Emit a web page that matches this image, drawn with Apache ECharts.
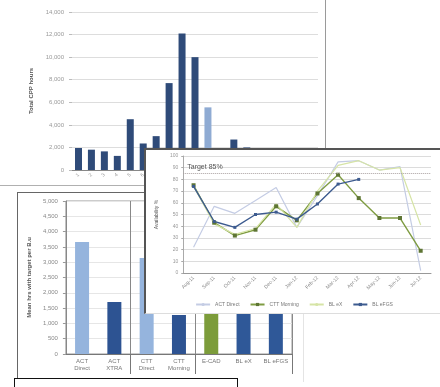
<!DOCTYPE html>
<html>
<head>
<meta charset="utf-8">
<script src="https://cdn.jsdelivr.net/npm/echarts@6/dist/echarts.min.js"></script>
<style>
  html, body { margin: 0; padding: 0; background: #fff; width: 440px; height: 387px; overflow: hidden; }
  .panel { position: absolute; background: #fff; }
  #hoursChart { left: 0; top: 0; width: 325px; height: 185px; border-right: 1px solid #9a9a9a; border-bottom: 1px solid #b0b0b0; z-index: 1; }
  #groupChart { left: 17px; top: 192px; width: 285px; height: 189px; border-left: 1px solid #666; border-top: 1px solid #666; border-right: 1px solid #e4e4e4; z-index: 2; }
  #availChart { left: 144px; top: 148px; width: 296px; height: 163px; border-left: 2px solid #555; border-top: 2px solid #555; border-bottom: 1px solid #ddd; z-index: 3; }
  #caption { left: 14px; top: 378px; width: 222px; height: 12px; border: 1px solid #111; z-index: 4; }
</style>
</head>
<body>
<div id="hoursChart" class="panel"></div>
<div id="groupChart" class="panel"></div>
<div id="availChart" class="panel"></div>
<div id="caption" class="panel"></div>
<script>
// top chart: total hours per week
const weekCats = ['1','2','3','4','5','6','7','8','9','10','11','12','13','14','15','16','17','18','19']
// values after index 13 sit under the line chart
const weekHours = [1950, 1800, 1650, 1250, 4500, 2350, 3000, 7700, 12100, 10000, 5550, null, 2700, 2000, null, null, null, null, null]
const weekTicks = [0, 2000, 4000, 6000, 8000, 10000, 12000, 14000]
const weekLightIndex = 10

// bottom-left chart: mean hours per group
const groupCats = ['ACT\nDirect', 'ACT\nXTRA', 'CTT\nDirect', 'CTT\nMorning', 'E-CAD', 'BL eX', 'BL eFGS']
const groupHours = [3660, 1700, 3140, 1275, 2000, 2500, 2400]
const groupTicks = [0, 500, 1000, 1500, 2000, 2500, 3000, 3500, 4000, 4500, 5000]

// right chart: availability by month
const months = ['Aug-11','Sep-11','Oct-11','Nov-11','Dec-11','Jan-12','Feb-12','Mar-12','Apr-12','May-12','Jun-12','Jul-12']
const actDirect = [22, 57, 51, 62, 73, 39, 66, 95, 96, 88, 91, 2]
const cttMorning = [75, 43, 32, 37, 57, 45, 68, 84, 64, 47, 47, 19]
const blEx = [74, 42, 33, 38, 59, 39, 70, 92, 96, 88, 90, 41]
const blEfgs = [74, 44, 39, 50, 52, 46, 59, 76, 80, null, null, null]
const availTicks = [0, 10, 20, 30, 40, 50, 60, 70, 80, 90, 100]
const target = 85

const font = 'Liberation Sans'
const fmt = v => v.toLocaleString('en-US')

let hours = echarts.init(document.getElementById('hoursChart'))
hours.setOption({
  animation: false,
  textStyle: { fontFamily: font },
  grid: { left: 72, top: 12, width: 246, height: 158 },
  xAxis: {
    type: 'category',
    data: weekCats,
    axisLine: { lineStyle: { color: '#888' } },
    axisTick: { show: false },
    axisLabel: { fontSize: 5, color: '#999', rotate: 45, margin: 4 }
  },
  yAxis: {
    type: 'value',
    min: weekTicks[0],
    max: weekTicks[weekTicks.length - 1],
    interval: 2000,
    name: 'Total CPP hours',
    nameLocation: 'middle',
    nameGap: 27,
    nameTextStyle: { fontSize: 6, color: '#555', fontWeight: 'bold' },
    axisLine: { show: false },
    axisTick: { show: true, length: 3, lineStyle: { color: '#bbb' } },
    axisLabel: { fontSize: 6, color: '#999', formatter: fmt },
    splitLine: { lineStyle: { color: '#ddd' } }
  },
  series: [{
    type: 'bar',
    data: weekHours,
    barWidth: 7,
    itemStyle: { color: p => p.dataIndex === weekLightIndex ? '#8fabd3' : '#2f4b79' }
  }]
})

const groupColors = ['#95b4dd', '#2d5392', '#95b4dd', '#2d5392', '#7c9c3a', '#2f5898', '#2f5898']
let groups = echarts.init(document.getElementById('groupChart'))
groups.setOption({
  animation: false,
  textStyle: { fontFamily: font },
  grid: { left: 40, top: 8, width: 234, height: 153, show: true, borderColor: '#999', borderWidth: 1 },
  xAxis: {
    type: 'category',
    data: groupCats,
    axisLine: { lineStyle: { color: '#777' } },
    axisTick: { show: true, length: 20, interval: i => i === 2 || i === 4, lineStyle: { color: '#777' } },
    splitLine: { show: true, interval: i => i === 2 || i === 4, lineStyle: { color: '#888' } },
    axisLabel: { fontSize: 6, color: '#777', lineHeight: 7, margin: 4, interval: 0 }
  },
  yAxis: {
    type: 'value',
    min: groupTicks[0],
    max: groupTicks[groupTicks.length - 1],
    interval: 500,
    name: 'Mean hrs with target per B.u',
    nameLocation: 'middle',
    nameGap: 27,
    nameTextStyle: { fontSize: 6, color: '#555', fontWeight: 'bold' },
    axisLine: { show: true, lineStyle: { color: '#888' } },
    axisTick: { show: true, length: 3, lineStyle: { color: '#999' } },
    axisLabel: { fontSize: 6, color: '#888', formatter: fmt },
    splitLine: { lineStyle: { color: '#e6e6e6' } }
  },
  series: [{
    type: 'bar',
    data: groupHours,
    barWidth: 14,
    itemStyle: { color: p => groupColors[p.dataIndex] }
  }]
})

let avail = echarts.init(document.getElementById('availChart'))
avail.setOption({
  animation: false,
  textStyle: { fontFamily: font },
  grid: { left: 28, top: 6, width: 257, height: 117 },
  legend: {
    bottom: 1,
    left: 'center',
    itemWidth: 14,
    itemHeight: 4,
    itemGap: 10,
    textStyle: { fontSize: 5, color: '#777' }
  },
  xAxis: {
    type: 'category',
    data: months,
    axisLine: { lineStyle: { color: '#999' } },
    axisTick: { show: false },
    axisLabel: { fontSize: 5, color: '#888', rotate: 45, margin: 4, interval: 0 }
  },
  yAxis: {
    type: 'value',
    min: availTicks[0],
    max: availTicks[availTicks.length - 1],
    interval: 10,
    name: 'Availability %',
    nameLocation: 'middle',
    nameGap: 19,
    nameTextStyle: { fontSize: 5, color: '#555' },
    axisLine: { show: true, lineStyle: { color: '#aaa' } },
    axisTick: { show: true, length: 2, lineStyle: { color: '#aaa' } },
    axisLabel: { fontSize: 5, color: '#999', margin: 5 },
    splitLine: { lineStyle: { color: '#dcdcdc' } }
  },
  series: [
    {
      name: 'ACT Direct', type: 'line', data: actDirect,
      lineStyle: { color: '#c4cce4', width: 1.2 }, itemStyle: { color: '#c4cce4' },
      symbol: 'none',
      markLine: {
        silent: true, symbol: 'none',
        data: [{ yAxis: target }],
        lineStyle: { color: '#a9a0a0', type: 'dotted', width: 1 },
        label: { show: true, position: 'insideStartTop', formatter: 'Target ' + target + '%', fontSize: 7, color: '#555', distance: [4, 3] }
      }
    },
    {
      name: 'CTT Morning', type: 'line', data: cttMorning,
      lineStyle: { color: '#7f9c42', width: 1.4 }, itemStyle: { color: '#5e7534' },
      symbol: 'rect', symbolSize: 4
    },
    {
      name: 'BL eX', type: 'line', data: blEx,
      lineStyle: { color: '#d6e4a6', width: 1.2 }, itemStyle: { color: '#d6e4a6' },
      symbol: 'none'
    },
    {
      name: 'BL eFGS', type: 'line', data: blEfgs,
      lineStyle: { color: '#3d5b8f', width: 1.4 }, itemStyle: { color: '#3d5b8f' },
      symbol: 'rect', symbolSize: 3
    }
  ]
})
</script>
</body>
</html>
